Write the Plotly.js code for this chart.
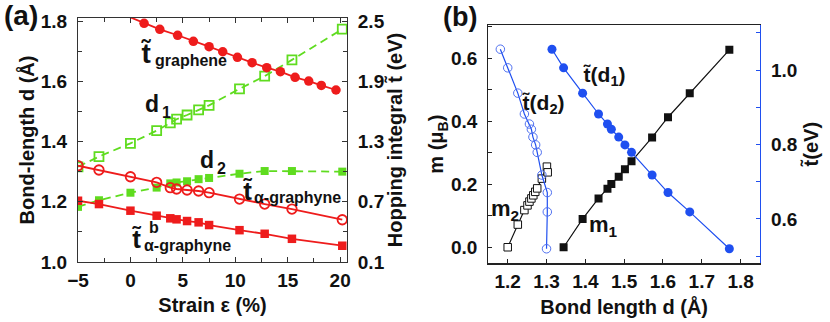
<!DOCTYPE html>
<html>
<head>
<meta charset="utf-8">
<script src="https://cdn.plot.ly/plotly-3.0.1.min.js"></script>
<style>html,body{margin:0;padding:0;background:#fff;}#chart{width:830px;height:322px;}</style>
</head>
<body>
<div id="chart"></div>
<script>
// ---------- Panel (a): strain dependence ----------
var strainA = [-5, -3, 0, 2.5, 3.8, 4.4, 5.4, 6.5, 7.5, 10.4, 12.8, 15.4, 20.2];
var d1A = [1.316, 1.350, 1.394, 1.436, 1.462, 1.474, 1.488, 1.505, 1.520, 1.575, 1.617, 1.671, 1.773];
var d2A = [1.183, 1.205, 1.230, 1.247, 1.261, 1.264, 1.268, 1.275, 1.279, 1.293, 1.302, 1.302, 1.300];
var tAlpha = [1.059, 1.016, 0.949, 0.893, 0.840, 0.827, 0.817, 0.807, 0.790, 0.727, 0.677, 0.627, 0.521];
var tAlphaB = [0.710, 0.677, 0.611, 0.561, 0.535, 0.525, 0.508, 0.495, 0.468, 0.417, 0.381, 0.331, 0.262];
var strainG = [-1.5, 1.3, 2.8, 4.5, 6.0, 7.5, 8.8, 10.2, 11.6, 13.0, 14.3, 15.7, 17.0, 18.2, 19.6];
var tGraphene = [2.600, 2.477, 2.417, 2.358, 2.298, 2.244, 2.194, 2.138, 2.085, 2.035, 1.995, 1.939, 1.902, 1.859, 1.813];

// ---------- Panel (b): bond-length dependence ----------
var d1B = [1.314, 1.344, 1.393, 1.434, 1.457, 1.467, 1.486, 1.502, 1.519, 1.572, 1.613, 1.669, 1.771];
var tD1 = [1.056, 1.006, 0.938, 0.882, 0.855, 0.841, 0.820, 0.799, 0.779, 0.718, 0.671, 0.619, 0.520];
var d2B = [1.181, 1.200, 1.226, 1.243, 1.256, 1.261, 1.265, 1.272, 1.276, 1.288, 1.302, 1.302, 1.300];
var tD2 = [1.056, 1.006, 0.938, 0.882, 0.855, 0.841, 0.820, 0.799, 0.779, 0.718, 0.671, 0.619, 0.520];
var m1D = [1.344, 1.393, 1.434, 1.457, 1.467, 1.486, 1.502, 1.519, 1.572, 1.613, 1.669, 1.771];
var m1 = [0.000, 0.090, 0.155, 0.186, 0.201, 0.224, 0.248, 0.273, 0.349, 0.413, 0.489, 0.627];
var m2D = [1.200, 1.226, 1.243, 1.251, 1.256, 1.261, 1.266, 1.271, 1.276, 1.288, 1.301, 1.303];
var m2 = [0.000, 0.072, 0.118, 0.133, 0.145, 0.155, 0.165, 0.176, 0.187, 0.218, 0.256, 0.238];

var W = 830, H = 322;
function px(x){ return x / W; }
function py(y){ return 1 - y / H; }

var RED = '#ee1c1c', GREEN = '#5fdc1f', BLUE = '#1f4ff0', LBLUE = '#4f70f0';
var FONT = 'Liberation Sans, Arial, Helvetica, sans-serif';

var traces = [
  {x: strainA, y: d1A, xaxis:'x', yaxis:'y', mode:'lines+markers',
   line:{color:GREEN, width:1.8, dash:'8px,5px'},
   marker:{symbol:'square-open', size:9, color:GREEN, line:{color:GREEN, width:1.8}}},
  {x: strainA, y: d2A, xaxis:'x', yaxis:'y', mode:'lines+markers',
   line:{color:GREEN, width:1.8, dash:'8px,5px'},
   marker:{symbol:'square', size:8, color:GREEN}},
  {x: strainG, y: tGraphene, xaxis:'x', yaxis:'y2', mode:'lines+markers',
   line:{color:RED, width:1.8},
   marker:{symbol:'circle', size:9.5, color:RED}},
  {x: strainA, y: tAlpha, xaxis:'x', yaxis:'y2', mode:'lines+markers',
   line:{color:RED, width:1.8},
   marker:{symbol:'circle-open', size:9.5, color:RED, line:{color:RED, width:1.8}}},
  {x: strainA, y: tAlphaB, xaxis:'x', yaxis:'y2', mode:'lines+markers',
   line:{color:RED, width:1.8},
   marker:{symbol:'square', size:8.5, color:RED}},

  {x: m2D, y: m2, xaxis:'x2', yaxis:'y3', mode:'lines+markers',
   line:{color:'#111', width:1.2},
   marker:{symbol:'square', size:7.5, color:'#fff', line:{color:'#111', width:1}}},
  {x: m1D, y: m1, xaxis:'x2', yaxis:'y3', mode:'lines+markers',
   line:{color:'#111', width:1.2},
   marker:{symbol:'square', size:8, color:'#111'}},
  {x: d2B, y: tD2, xaxis:'x2', yaxis:'y4', mode:'lines+markers',
   line:{color:BLUE, width:1.2},
   marker:{symbol:'circle-open', size:8.5, color:LBLUE, line:{color:LBLUE, width:1}}},
  {x: d1B, y: tD1, xaxis:'x2', yaxis:'y4', mode:'lines+markers',
   line:{color:BLUE, width:1.2},
   marker:{symbol:'circle', size:9, color:BLUE}}
];

var tickF = {family:FONT, size:19, color:'#111', weight:700};
var titleF = {family:FONT, size:20, color:'#111', weight:700};

var layout = {
  width: W, height: H,
  margin: {l:0, r:0, t:0, b:0},
  paper_bgcolor:'#fff', plot_bgcolor:'#fff',
  showlegend: false,
  font: {family: FONT},
  xaxis: {
    domain:[px(78), px(347)], range:[-5, 20.65], anchor:'y',
    tick0:0, dtick:5, ticks:'inside', ticklen:5, tickcolor:'#333',
    minor:{ticks:'inside', dtick:2.5, ticklen:4, tickcolor:'#333'},
    showline:true, linecolor:'#333', linewidth:1, mirror:'ticks',
    showgrid:false, zeroline:false, tickfont:tickF, ticklabelstandoff:1,
    title:{text:'Strain ε (%)', font:titleF, standoff:8}
  },
  yaxis: {
    domain:[py(262), py(18)], range:[1.0, 1.81], anchor:'x',
    tick0:1.0, dtick:0.2, tickformat:'.1f', ticks:'inside', ticklen:5, tickcolor:'#333',
    minor:{ticks:'inside', dtick:0.1, ticklen:4, tickcolor:'#333'},
    showline:true, linecolor:'#333', linewidth:1,
    showgrid:false, zeroline:false, tickfont:tickF, ticklabelstandoff:6,
    title:{text:'Bond-length d (Å)', font:titleF, standoff:0}
  },
  yaxis2: {
    overlaying:'y', side:'right', anchor:'x', range:[0.1, 2.53],
    tick0:0.1, dtick:0.6, tickformat:'.1f', ticks:'inside', ticklen:5, tickcolor:'#333',
    minor:{ticks:'inside', tick0:0.1, dtick:0.3, ticklen:4, tickcolor:'#333'},
    showline:true, linecolor:'#333', linewidth:1,
    showgrid:false, zeroline:false, tickfont:tickF, ticklabelstandoff:6,
    title:{text:'Hopping integral t̃ (eV)', font:titleF, standoff:2}
  },
  xaxis2: {
    domain:[px(488.3), px(760)], range:[1.15, 1.85], anchor:'y3',
    tick0:1.2, dtick:0.1, tickformat:'.1f', ticks:'inside', ticklen:4, tickcolor:'#222',
    showline:true, linecolor:'#222', linewidth:1.2, mirror:true,
    showgrid:false, zeroline:false, tickfont:tickF, ticklabelstandoff:1,
    title:{text:'Bond length d (Å)', font:titleF, standoff:8}
  },
  yaxis3: {
    domain:[py(263.3), py(25)], range:[-0.051, 0.706], anchor:'x2',
    tick0:0, dtick:0.2, tickformat:'.1f', ticks:'inside', ticklen:4, tickcolor:'#222',
    minor:{ticks:'inside', dtick:0.1, ticklen:4, tickcolor:'#222'},
    showline:true, linecolor:'#222', linewidth:1.2,
    showgrid:false, zeroline:false, tickfont:tickF, ticklabelstandoff:6,
    title:{text:'m (μ<sub>B</sub>)', font:titleF, standoff:1}
  },
  yaxis4: {
    overlaying:'y3', side:'right', anchor:'x2', range:[0.481, 1.121],
    tick0:0.6, dtick:0.2, tickformat:'.1f', ticks:'inside', ticklen:4, tickcolor:BLUE,
    minor:{ticks:'inside', dtick:0.1, ticklen:4, tickcolor:BLUE},
    showline:true, linecolor:BLUE, linewidth:1.2,
    showgrid:false, zeroline:false, tickfont:tickF, ticklabelstandoff:6,
    title:{text:'t̃(eV)', font:titleF, standoff:7}
  },
  annotations: []
};

function ann(text, x, y, size, extra){
  var a = {text:text, xref:'paper', yref:'paper', x:px(x), y:py(y),
           xanchor:'left', yanchor:'middle', showarrow:false,
           font:{family:FONT, size:size, color:'#111', weight:700}};
  if (extra) for (var k in extra) a[k] = extra[k];
  layout.annotations.push(a);
}
// panel labels
ann('(a)', 2, 16, 28);
ann('(b)', 441, 17, 27);
// panel (a) labels
ann('t̃', 139, 53, 28);
ann('graphene', 153, 60, 16);
ann('d', 143, 104, 23);
ann('1', 160, 112, 16);
ann('d', 198, 160, 23);
ann('2', 215, 168, 16);
ann('t̃', 241, 191, 26);
ann('α-graphyne', 252, 197, 16);
ann('t̃', 130, 239, 26);
ann('b', 147, 227, 16);
ann('α-graphyne', 142, 245, 16);
// panel (b) labels
ann('t̃(d<sub>1</sub>)', 581, 76, 21);
ann('t̃(d<sub>2</sub>)', 520, 104, 21);
ann('m<sub>2</sub>', 489, 210, 22);
ann('m<sub>1</sub>', 587, 226, 22);

Plotly.newPlot('chart', traces, layout, {displayModeBar:false, staticPlot:true});
</script>
</body>
</html>
